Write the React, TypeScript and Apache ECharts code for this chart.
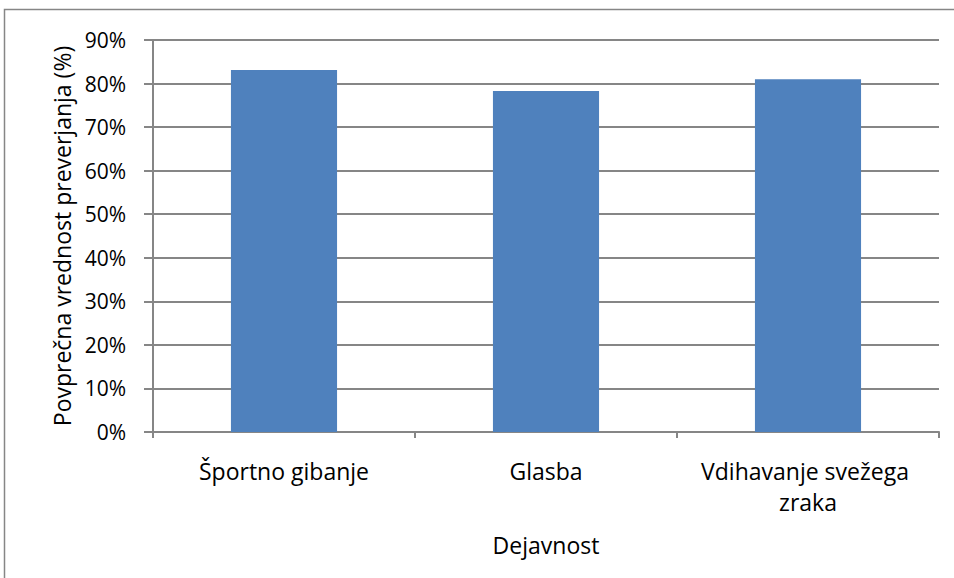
import React, { useEffect, useRef } from "react";
import * as echarts from "echarts";

// Activities and their average check scores (%)
const categories = ["Športno gibanje", "Glasba", "Vdihavanje svežega zraka"];
const values = [83.1, 78.3, 81.0];
const yTicks = [0, 10, 20, 30, 40, 50, 60, 70, 80, 90];

const xTitle = "Dejavnost";
const yTitle = "Povprečna vrednost preverjanja (%)";

const FONT = "'Open Sans', 'Noto Sans', sans-serif";
const LINE = "#868686";
const BAR = "#4F81BD";

export default function App() {
  const ref = useRef<HTMLDivElement>(null);

  useEffect(() => {
    if (!ref.current) return;
    const chart = echarts.init(ref.current, null, { renderer: "svg" });
    chart.setOption({
      animation: false,
      backgroundColor: "#ffffff",
      textStyle: { fontFamily: FONT },
      grid: { left: 153, right: 15, top: 40, bottom: 146, containLabel: false },
      graphic: [
        {
          type: "rect",
          shape: { x: 4.5, y: 9.5, width: 970, height: 590 },
          style: { fill: "none", stroke: LINE, lineWidth: 1.5 },
          silent: true,
          z: -1,
        },
      ],
      xAxis: {
        type: "category",
        data: categories,
        name: xTitle,
        nameLocation: "middle",
        nameGap: 101,
        nameTextStyle: { fontFamily: FONT, fontSize: 23, color: "#000" },
        axisLine: { show: true, lineStyle: { color: LINE, width: 2 } },
        axisTick: { show: true, length: 6, lineStyle: { color: LINE, width: 2 } },
        axisLabel: {
          fontFamily: FONT,
          fontSize: 23,
          color: "#000",
          margin: 23,
          lineHeight: 31,
          width: 240,
          overflow: "break",
          interval: 0,
        },
      },
      yAxis: {
        type: "value",
        min: yTicks[0],
        max: yTicks[yTicks.length - 1],
        interval: yTicks[1] - yTicks[0],
        name: yTitle,
        nameLocation: "middle",
        nameGap: 77,
        nameTextStyle: { fontFamily: FONT, fontSize: 23, color: "#000" },
        axisLine: { show: true, lineStyle: { color: LINE, width: 2 } },
        axisTick: { show: true, length: 9, lineStyle: { color: LINE, width: 2 } },
        splitLine: { show: true, lineStyle: { color: LINE, width: 2 } },
        axisLabel: {
          fontFamily: FONT,
          fontSize: 21,
          color: "#000",
          margin: 27,
          formatter: (v: number) => `${v}%`,
        },
      },
      series: [
        {
          type: "bar",
          data: values,
          barWidth: "40.5%",
          itemStyle: { color: BAR },
        },
      ],
    });
    return () => chart.dispose();
  }, []);

  return (
    <div
      ref={ref}
      style={{ position: "fixed", left: 0, top: 0, width: 954, height: 578 }}
    />
  );
}
